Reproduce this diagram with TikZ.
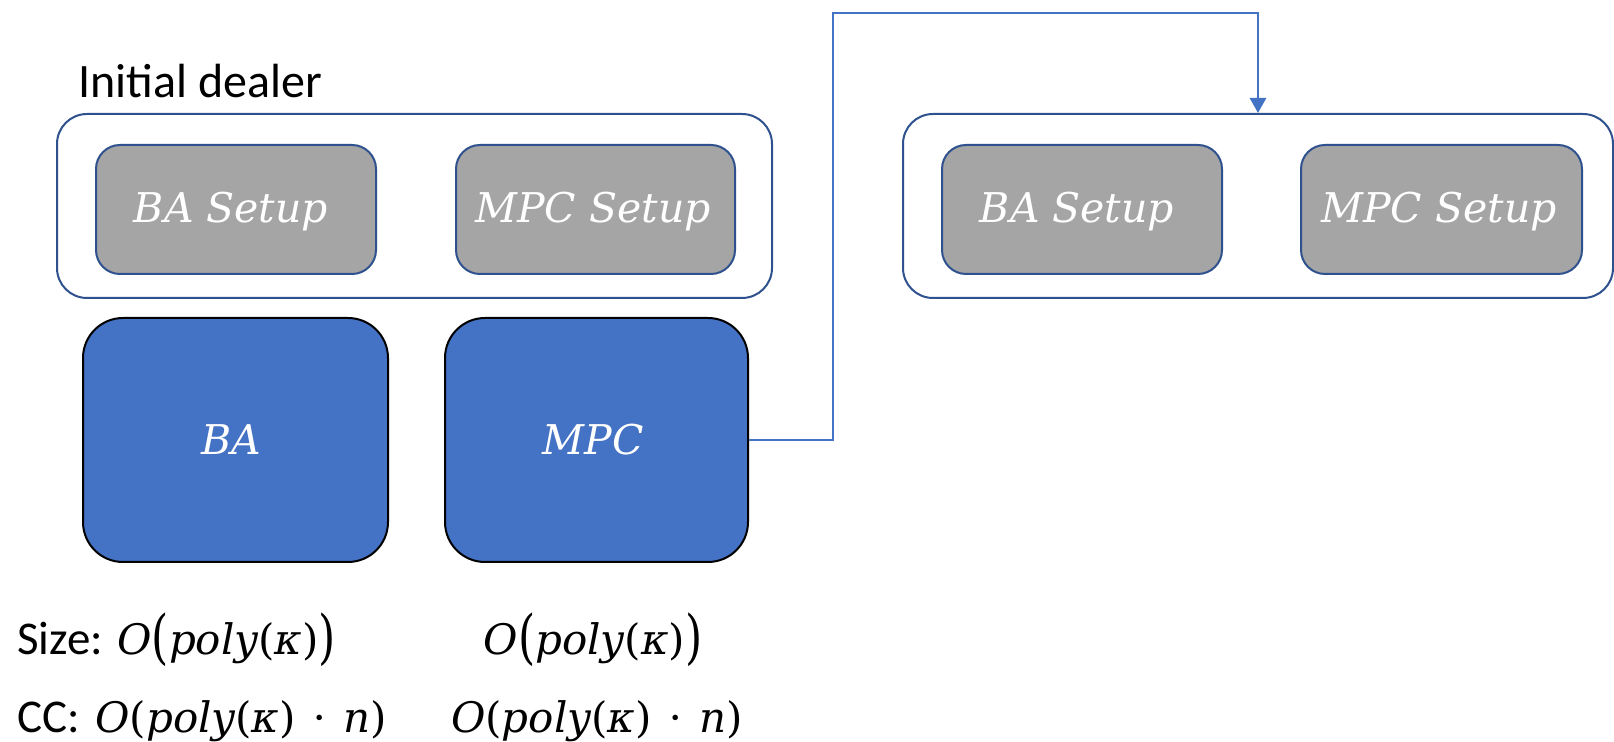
\documentclass[tikz,border=0pt]{standalone}
\usepackage{fontspec}
\setmainfont{Carlito}
\newfontfamily\mfont{DejaVu Serif}
\newcommand{\myit}[1]{{\mfont\itshape #1}}
\newcommand{\myup}[1]{{\mfont #1}}
\newcommand{\mybig}[1]{{\mfont\raisebox{-1.2pt}{\scalebox{1.05}[1.4]{#1}}}}
\newcommand{\mydot}{\myup{\hspace{0.4em}⋅\hspace{0.4em}}}
\usetikzlibrary{arrows.meta}
\definecolor{edgeblue}{HTML}{2F528F}
\definecolor{setupgray}{HTML}{A5A5A5}
\definecolor{fillblue}{HTML}{4472C4}
\begin{document}
\begin{tikzpicture}[x=0.5pt,y=-0.5pt,
  outerbox/.style={draw=edgeblue,line width=1pt,rounded corners=15pt,fill=white},
  setupbox/.style={draw=edgeblue,line width=1pt,rounded corners=12pt,fill=setupgray},
  protobox/.style={draw=black,line width=1pt,rounded corners=20pt,fill=fillblue},
  boxlabel/.style={text=white,font=\fontsize{20.5}{24}\selectfont,inner sep=0pt,anchor=base},
  plain/.style={font=\fontsize{23.5}{27}\selectfont,inner sep=0pt,anchor=base west},
  mathlbl/.style={font=\fontsize{21}{24}\selectfont,inner sep=0pt},
  conn/.style={draw=fillblue,line width=0.7pt},
  connarrow/.style={draw=fillblue,line width=1.4pt,-{Triangle[length=7.5pt,width=8pt]}}]
\useasboundingbox (0,0) rectangle (1614,742);
% left group
\node[plain,font=\fontsize{24}{28}\selectfont] (title) at (78,98) {Initial dealer};
\draw[outerbox] (57,114) rectangle (772,298);
\draw[setupbox] (96,145) rectangle (376,274);
\node[boxlabel] (bas1) at (231,223) {\myit{BA Setup}};
\draw[setupbox] (456,145) rectangle (735,274);
\node[boxlabel] (mpcs1) at (593,223) {\myit{MPC Setup}};
% right group
\node[outerbox,minimum width=355pt,minimum height=92pt,inner sep=0pt] (rbox) at (1258,206) {};
\draw[setupbox] (942,145) rectangle (1222,274);
\node[boxlabel] (bas2) at (1077,223) {\myit{BA Setup}};
\draw[setupbox] (1301,145) rectangle (1582,274);
\node[boxlabel] (mpcs2) at (1439,223) {\myit{MPC Setup}};
% protocol boxes
\node[protobox,minimum width=152.5pt,minimum height=122pt,inner sep=0pt] (ba) at (235.5,440) {};
\node[boxlabel] (balbl) at (231,455) {\myit{BA}};
\node[protobox,minimum width=151.5pt,minimum height=122pt,inner sep=0pt] (mpc) at (596.5,440) {};
\node[boxlabel] (mpclbl) at (593,455) {\myit{MPC}};
% connector
\coordinate (c1) at (833,13);
\coordinate (c2) at (1248,13);
\draw[conn] (mpc.east) -| (c1) -- (c2);
\draw[connarrow] (c2) -| (rbox.north);
% costs
\node[plain] (size) at (17,655) {Size:};
\node[mathlbl,anchor=base west] (size1) at (117,655) {\myit{O}\mybig{(}\myit{poly}\myup{(}\myit{κ}\myup{)}\mybig{)}};
\node[mathlbl,anchor=base] (size2) at (593,655) {\myit{O}\mybig{(}\myit{poly}\myup{(}\myit{κ}\myup{)}\mybig{)}};
\node[plain] (cc) at (17,733) {CC:};
\node[mathlbl,anchor=base west] (cc1) at (95,733) {\myit{O}\myup{(}\myit{poly}\myup{(}\myit{κ}\myup{)}\mydot\myit{n}\myup{)}};
\node[mathlbl,anchor=base] (cc2) at (597,733) {\myit{O}\myup{(}\myit{poly}\myup{(}\myit{κ}\myup{)}\mydot\myit{n}\myup{)}};
\end{tikzpicture}
\end{document}
